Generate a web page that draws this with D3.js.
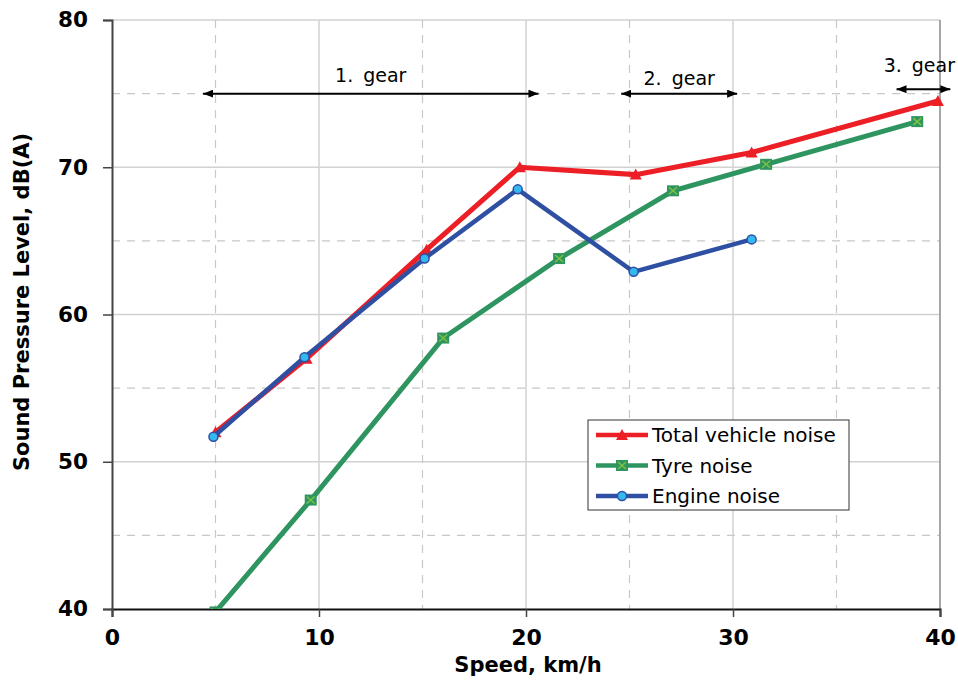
<!DOCTYPE html>
<html>
<head>
<meta charset="utf-8">
<script src="https://cdn.jsdelivr.net/npm/d3@7"></script>
<style>
  body { margin: 0; background: #fff; }
  svg { display: block; }
</style>
</head>
<body>
<svg id="chart"></svg>
<script>
// values
const totalSpeed = [5.0, 9.4, 15.2, 19.7, 25.3, 30.9, 39.9];
const totalLevel = [52.0, 57.0, 64.4, 70.0, 69.5, 71.0, 74.5];

const tyreSpeed = [5.0, 9.6, 16.0, 21.6, 27.1, 31.6, 38.9];
const tyreLevel = [39.8, 47.4, 58.4, 63.8, 68.4, 70.2, 73.1];

const engineSpeed = [4.9, 9.3, 15.1, 19.6, 25.2, 30.9];
const engineLevel = [51.7, 57.1, 63.8, 68.5, 62.9, 65.1];

const seriesNames = ["Total vehicle noise", "Tyre noise", "Engine noise"];

const gearNames = ["1. gear", "2. gear", "3. gear"];
const gearFrom = [4.4, 24.6, 37.9];
const gearTo = [20.6, 30.2, 40.5];
const gearLevel = [75.0, 75.0, 75.3];
const gearLabelLevel = [75.8, 75.6, 76.5];

const xTicks = [0, 10, 20, 30, 40];
const yTicks = [40, 50, 60, 70, 80];
const xMinor = [5, 15, 25, 35];
const yMinor = [45, 55, 65, 75];

const W = 958, H = 684;
const pLeft = 112, pRight = 940, pTop = 20, pBottom = 609;

const svg = d3.select("#chart").attr("width", W).attr("height", H);

const x = d3.scaleLinear().domain([0, 40]).range([pLeft, pRight]);
const y = d3.scaleLinear().domain([40, 80]).range([pBottom, pTop]);

const red = "#ec1f26", green = "#2f9560", blue = "#2f4fa2";

// grid
svg.append("g").selectAll("line").data(xTicks.slice(1, -1)).join("line")
  .attr("x1", d => x(d)).attr("x2", d => x(d)).attr("y1", pTop).attr("y2", pBottom)
  .attr("stroke", "#d2d2d2").attr("stroke-width", 1.5);
svg.append("g").selectAll("line").data(yTicks.slice(1)).join("line")
  .attr("x1", pLeft).attr("x2", pRight).attr("y1", d => y(d)).attr("y2", d => y(d))
  .attr("stroke", "#d2d2d2").attr("stroke-width", 1.5);
svg.append("g").selectAll("line").data(xMinor).join("line")
  .attr("x1", d => x(d)).attr("x2", d => x(d)).attr("y1", pTop).attr("y2", pBottom)
  .attr("stroke", "#c8c8c8").attr("stroke-width", 1.2).attr("stroke-dasharray", "8,7");
svg.append("g").selectAll("line").data(yMinor).join("line")
  .attr("x1", pLeft).attr("x2", pRight).attr("y1", d => y(d)).attr("y2", d => y(d))
  .attr("stroke", "#c8c8c8").attr("stroke-width", 1.2).attr("stroke-dasharray", "8,7");

// right border
svg.append("line")
  .attr("x1", pRight).attr("x2", pRight).attr("y1", pTop).attr("y2", pBottom)
  .attr("stroke", "#8a8a8a").attr("stroke-width", 1.5);

// axes
const xAxis = svg.append("g")
  .attr("transform", `translate(0,${pBottom})`)
  .call(d3.axisBottom(x).tickValues(xTicks).tickSize(8).tickPadding(12));
xAxis.select(".domain").attr("stroke", "#111").attr("stroke-width", 2);
xAxis.selectAll(".tick line").attr("stroke", "#444").attr("stroke-width", 1.5);
xAxis.selectAll(".tick text")
  .attr("font-family", "DejaVu Sans").attr("font-weight", "bold")
  .attr("font-size", 22).attr("fill", "#000");

const yAxis = svg.append("g")
  .attr("transform", `translate(${pLeft},0)`)
  .call(d3.axisLeft(y).tickValues(yTicks).tickSize(9).tickPadding(15));
yAxis.select(".domain").attr("stroke", "#444").attr("stroke-width", 2);
yAxis.selectAll(".tick line").attr("stroke", "#444").attr("stroke-width", 1.5);
yAxis.selectAll(".tick text")
  .attr("font-family", "DejaVu Sans").attr("font-weight", "bold")
  .attr("font-size", 21.5).attr("fill", "#000");

// axis labels
svg.append("text")
  .attr("x", (pLeft + pRight) / 2 + 2).attr("y", 672)
  .attr("text-anchor", "middle")
  .attr("font-family", "DejaVu Sans").attr("font-weight", "bold").attr("font-size", 21)
  .text("Speed, km/h");

svg.append("text")
  .attr("transform", "translate(29,302) rotate(-90)")
  .attr("text-anchor", "middle")
  .attr("font-family", "DejaVu Sans").attr("font-weight", "bold").attr("font-size", 21)
  .text("Sound Pressure Level, dB(A)");

// gear arrows
const defs = svg.append("defs");
defs.append("marker").attr("id", "arrowEnd")
  .attr("viewBox", "0 0 10 8").attr("refX", 10).attr("refY", 4)
  .attr("markerWidth", 10).attr("markerHeight", 8).attr("markerUnits", "userSpaceOnUse")
  .attr("orient", "auto")
  .append("path").attr("d", "M0,0 L10,4 L0,8 Z").attr("fill", "#000");
defs.append("marker").attr("id", "arrowStart")
  .attr("viewBox", "0 0 10 8").attr("refX", 0).attr("refY", 4)
  .attr("markerWidth", 10).attr("markerHeight", 8).attr("markerUnits", "userSpaceOnUse")
  .attr("orient", "auto")
  .append("path").attr("d", "M10,0 L0,4 L10,8 Z").attr("fill", "#000");

gearNames.forEach((g, i) => {
  svg.append("line")
    .attr("x1", x(gearFrom[i])).attr("x2", x(gearTo[i]))
    .attr("y1", y(gearLevel[i])).attr("y2", y(gearLevel[i]))
    .attr("stroke", "#000").attr("stroke-width", 2)
    .attr("marker-start", "url(#arrowStart)").attr("marker-end", "url(#arrowEnd)");
  // the last label sits against the right edge, so anchor it there
  const last = i === gearNames.length - 1;
  svg.append("text")
    .attr("x", last ? W - 3 : x((gearFrom[i] + gearTo[i]) / 2))
    .attr("y", y(gearLabelLevel[i]))
    .attr("text-anchor", last ? "end" : "middle")
    .attr("font-family", "DejaVu Sans").attr("font-size", 19)
    .attr("word-spacing", 4)
    .text(g);
});

// series
svg.append("clipPath").attr("id", "plotClip")
  .append("rect").attr("x", pLeft).attr("y", pTop - 10)
  .attr("width", pRight - pLeft + 10).attr("height", pBottom - pTop + 10);

const line = d3.line().x(d => x(d[0])).y(d => y(d[1]));
const plot = svg.append("g").attr("clip-path", "url(#plotClip)");

const tyre = d3.zip(tyreSpeed, tyreLevel);
const total = d3.zip(totalSpeed, totalLevel);
const engine = d3.zip(engineSpeed, engineLevel);

function triangle(g, cx, cy) {
  g.append("path")
    .attr("d", `M${cx},${cy - 6} L${cx + 6},${cy + 5} L${cx - 6},${cy + 5} Z`)
    .attr("fill", red);
}
function square(g, cx, cy) {
  g.append("rect").attr("x", cx - 6).attr("y", cy - 5.5).attr("width", 12).attr("height", 11)
    .attr("fill", green);
  g.append("path")
    .attr("d", `M${cx - 4},${cy - 3.5} L${cx + 4},${cy + 3.5} M${cx + 4},${cy - 3.5} L${cx - 4},${cy + 3.5}`)
    .attr("stroke", "#7cc242").attr("stroke-width", 1.5);
}
function circle(g, cx, cy) {
  g.append("circle").attr("cx", cx).attr("cy", cy).attr("r", 4.5)
    .attr("fill", "#34b8f0").attr("stroke", blue).attr("stroke-width", 1.5);
}

plot.append("path").datum(tyre).attr("d", line)
  .attr("fill", "none").attr("stroke", green).attr("stroke-width", 5);
tyre.forEach(d => square(plot, x(d[0]), y(d[1])));

plot.append("path").datum(total).attr("d", line)
  .attr("fill", "none").attr("stroke", red).attr("stroke-width", 5);
total.forEach(d => triangle(plot, x(d[0]), y(d[1])));

plot.append("path").datum(engine).attr("d", line)
  .attr("fill", "none").attr("stroke", blue).attr("stroke-width", 4.5);
engine.forEach(d => circle(plot, x(d[0]), y(d[1])));

// legend
const lg = svg.append("g");
lg.append("rect").attr("x", 588).attr("y", 420).attr("width", 261).attr("height", 90)
  .attr("fill", "#fff").attr("stroke", "#333").attr("stroke-width", 1);
const legendColors = [red, green, blue];
const legendMarks = [triangle, square, circle];
seriesNames.forEach((name, i) => {
  const ry = 435 + i * 30.5;
  lg.append("line").attr("x1", 596).attr("x2", 648).attr("y1", ry).attr("y2", ry)
    .attr("stroke", legendColors[i]).attr("stroke-width", 4.5);
  legendMarks[i](lg, 622, ry);
  lg.append("text").attr("x", 652).attr("y", ry + 7)
    .attr("font-family", "DejaVu Sans").attr("font-size", 20).attr("fill", "#000")
    .text(name);
});
</script>
</body>
</html>
